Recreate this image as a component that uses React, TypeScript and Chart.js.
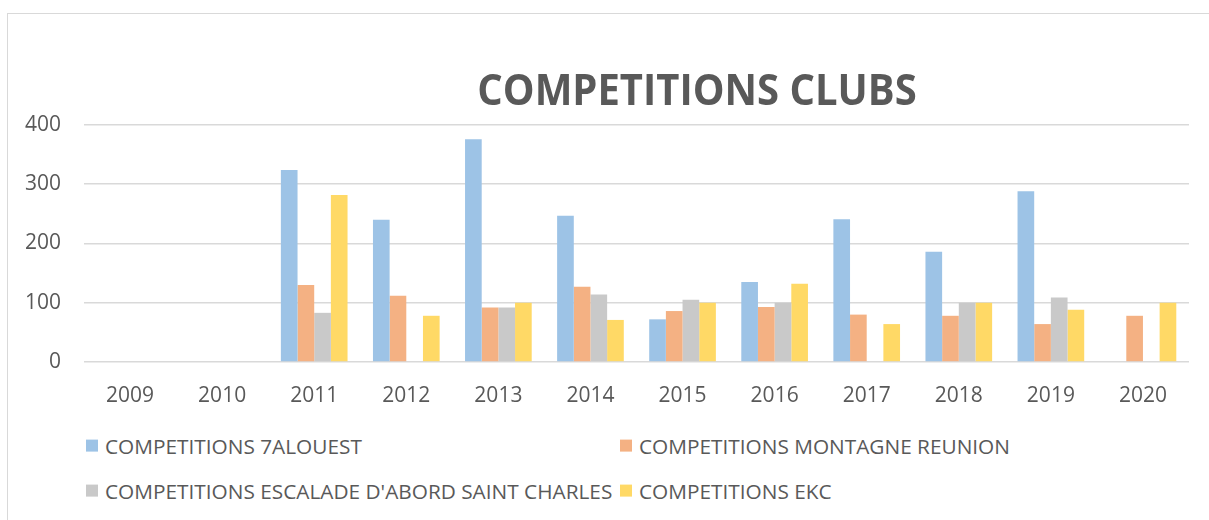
import React, { useEffect, useRef } from "react";
import { Chart, registerables } from "chart.js";

Chart.register(...registerables);

const categories = ["2009", "2010", "2011", "2012", "2013", "2014", "2015", "2016", "2017", "2018", "2019", "2020"];
const seriesNames = [
  "COMPETITIONS 7ALOUEST",
  "COMPETITIONS MONTAGNE REUNION",
  "COMPETITIONS ESCALADE D'ABORD SAINT CHARLES",
  "COMPETITIONS EKC",
];
const values7alouest = [null, null, 324, 240, 376, 247, 72, 135, 241, 186, 288, null];
const valuesMontagne = [null, null, 130, 112, 92, 127, 86, 93, 80, 78, 64, 78];
const valuesEscalade = [null, null, 83, null, 92, 114, 105, 100, null, 100, 109, null];
const valuesEkc = [null, null, 282, 78, 100, 71, 100, 132, 64, 100, 88, 100];
const colors = ["#9DC3E6", "#F4B183", "#C9C9C9", "#FFD966"];
const yTicks = [0, 100, 200, 300, 400];

const textColor = "#595959";
const fontFamily = "'Open Sans', 'Liberation Sans', sans-serif";

export default function App() {
  const canvasRef = useRef<HTMLCanvasElement | null>(null);

  useEffect(() => {
    document.body.style.margin = "0";
    const canvas = canvasRef.current;
    if (!canvas) return;
    const allSeries = [values7alouest, valuesMontagne, valuesEscalade, valuesEkc];
    const chart = new Chart(canvas, {
      type: "bar",
      data: {
        labels: categories,
        datasets: allSeries.map((vals, i) => ({
          label: seriesNames[i],
          data: vals,
          backgroundColor: colors[i],
          borderWidth: 0,
          barPercentage: 1,
          categoryPercentage: 0.724,
        })),
      },
      options: {
        responsive: false,
        animation: false,
        devicePixelRatio: 1,
        layout: { padding: { left: 0, right: 20, top: 125, bottom: 0 } },
        plugins: {
          legend: { display: false },
          title: { display: false },
          tooltip: { enabled: false },
        },
        scales: {
          x: {
            grid: { display: false },
            border: { display: false },
            ticks: {
              color: textColor,
              font: { family: fontFamily, size: 21 },
              padding: 13,
              maxRotation: 0,
            },
            afterFit: (scale: any) => {
              scale.height = 58;
            },
          },
          y: {
            min: 0,
            max: 400,
            afterBuildTicks: (scale: any) => {
              scale.ticks = yTicks.map((v) => ({ value: v }));
            },
            grid: { color: "#D9D9D9", lineWidth: 1.6, drawTicks: false },
            border: { display: false },
            ticks: {
              color: textColor,
              font: { family: fontFamily, size: 21 },
              padding: 23,
            },
            afterFit: (scale: any) => {
              scale.width = 84;
            },
          },
        },
      },
    });
    return () => chart.destroy();
  }, []);

  const legendRows = [
    [0, 1],
    [2, 3],
  ];
  const rowY = [446, 491];
  const colX = [86, 620];

  return (
    <div style={{ position: "relative", width: 1209, height: 520, overflow: "hidden", background: "#fff", fontFamily }}>
      <div
        style={{
          position: "absolute",
          left: 7,
          top: 13,
          width: 1240,
          height: 560,
          border: "1.5px solid #D9D9D9",
          boxSizing: "border-box",
        }}
      />
      <canvas ref={canvasRef} width={1209} height={420} style={{ position: "absolute", left: 0, top: 0 }} />
      <div
        style={{
          position: "absolute",
          left: 697,
          top: 89,
          transform: "translate(-50%, -50%) scaleY(1.08)",
          whiteSpace: "nowrap",
          fontSize: 40,
          fontWeight: 700,
          color: textColor,
          lineHeight: 1,
        }}
      >
        COMPETITIONS CLUBS
      </div>
      {legendRows.map((row, r) =>
        row.map((idx, c) => (
          <div
            key={idx}
            style={{
              position: "absolute",
              left: colX[c],
              top: rowY[r],
              transform: "translateY(-50%)",
              display: "flex",
              alignItems: "center",
              whiteSpace: "nowrap",
              fontSize: 20.8,
              color: textColor,
              lineHeight: 1,
            }}
          >
            <span style={{ display: "inline-block", width: 12, height: 12, background: colors[idx], marginRight: 7 }} />
            <span>{seriesNames[idx]}</span>
          </div>
        ))
      )}
    </div>
  );
}
